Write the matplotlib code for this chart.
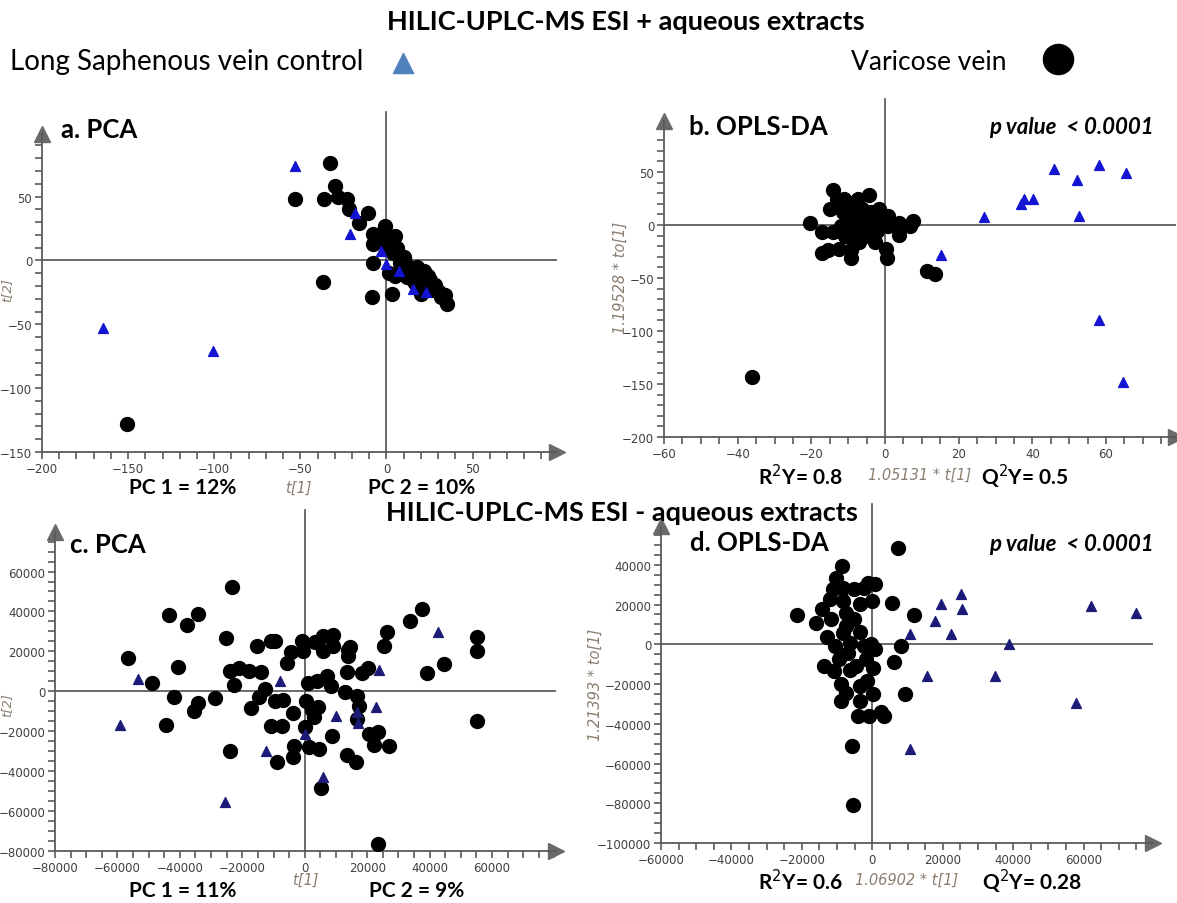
import matplotlib
matplotlib.use("Agg")
import matplotlib.pyplot as plt
from matplotlib.ticker import MultipleLocator

W, H = 1177, 904

# ---- panel a : PCA, ESI+ ----
a_tri_x = [-53.3, -21, -3, 0, 7, 15.5, 23, -164.7, -100.6, -18]
a_tri_y = [74, 21, 7, -3, -8, -22, -25, -53, -71, 37]
a_dot_x = [-33, -30, -53, -36, -28, -23, -22, -16, -11, -8, -8, -1, 5, 1.5, -5, 4, 10, -8,
           1.5, 5, 12, 14, 17.6, 18.7, 21, 16.5, 20, 25, 28, 30.5, 34, 35, 31.6, 8, 11, 22,
           24, -37, -8.6, 3, -150.5, -3, -0.6, 6, 12, 15.5, 23, 26]
a_dot_y = [76, 58, 48, 48, 50, 48, 40, 29, 37, 21, 13, 27, 19, 11, 16, 5.5, 3, -2,
           -10, -12, -5, -9, -5, -13, -17, -18, -26, -15.5, -19.5, -25, -27, -34, -29, -2.4, -1, -8,
           -12, -17, -29, -26, -128, 21, 16, 9.5, -13, -15.5, -21, -23]

# ---- panel b : OPLS-DA, ESI+ ----
b_tri_x = [45.8, 52.2, 58, 65.5, 26.8, 37, 37.8, 40.2, 52.7, 15.1, 58, 64.5]
b_tri_y = [52.3, 42.5, 56.7, 49, 7.2, 19.5, 24.6, 24.6, 8.8, -28.3, -89.4, -148.6]
b_dot_x = [-36, 11.3, 13.5, -20.4, -14, -17, -17.2, -15.5, -12.4, -9.2, -9.2, -15, -14, -13,
           -11, -8.9, -7.3, -4.3, -9.9, -8.9, -6.8, -7.1, -5.3, -2.7, -3.8, -1.7, -0.7, 0.8,
           0.8, 0.3, 0.6, 3.9, 3.9, 6.9, 7.6, -11.4, -7.8, -6.3, -5.8, -2.7, -10.9, -4.8,
           -8.4, -2.2, -4.3, -12, -8.9]
b_dot_y = [-143, -43, -46, 1.6, 33, -7, -26.4, -24, -22.7, -24, -31.5, 15, -7, 24.5,
           24.5, 21, 24.5, 28, 5.7, -3.8, -0.6, -16.4, -10, -16.4, 12, 15, 5.7, 8.8,
           -0.6, -22.7, -31.5, 1.9, -9.4, -0.6, 3.5, 12, 12, 15, 5.7, 2.5, -10, -5.4,
           0.9, -5.4, 10.4, -0.6, -13]

# ---- panel c : PCA, ESI- (thousands) ----
c_tri_x = [-53.4, -59.2, -8, -25.5, -12.5, 0, 5.7, 10.1, 16.6, 17, 22.7, 23.7, 42.7]
c_tri_y = [6.2, -16.7, 5, -55.4, -30.1, -21.4, -42.8, -12.2, -10.5, -15.9, -7.7, 10.7, 29.5]
c_dot_x = [-23.4, -43.6, -37.6, -34.1, -56.5, -40.6, -48.9, -41.8, -34.3, -35.5, -44.5, -28.7,
           -25.2, -24, -22.8, -21, -24, -17.8, -15.4, -13.9, -12.7, -14.8, -17.1, -10.7, -9.5,
           -9.5, -6.8, -10.7, -7.4, -8.8, -5.6, -4.4, -3.8, -3.4, -3.8, -0.8, -0.5, 1.2, 0.4,
           0, 1.5, 2.4, 3.1, 4.2, 4.5, 5.1, 3.9, 3.3, 5.9, 5.9, 7.2, 8.4, 9, 9, 8.7, 12.8,
           13.6, 13.8, 14, 14.6, 13.6, 16.7, 17.3, 16.6, 16.4, 18.2, 20.2, 20.5, 22.2, 23.5,
           23.5, 25.5, 26.2, 27.1, 33.6, 37.5, 39.3, 44.5, 55.2, 55.2, 55.2]
c_dot_y = [52.2, 38.3, 33.3, 38.8, 16.7, 12, 4, -2.7, -6, -9.7, -16.7, -3.5,
           26.8, 10.4, 3.3, 11.7, -29.8, 10, 22.9, 9.5, 1.2, -3, -8.4, 25.4, 25.1,
           -4.7, -4.4, -17.6, -17.2, -35.6, 14.1, 19.6, -10.9, -27.3, -32.8, 25.1, 20.1, 4, -5,
           -18.1, -27.8, -9.4, -13.1, -8, -29, -48.2, 5.4, 24.6, 27.6, 20.1, 7.9, 2.8, 28, 22.9, -22.3, -0.5,
           9.5, 17.9, 20.9, 22.4, -31.8, -2.5, -7.2, -13.9, -35.6, 9, 11.7, -21.4, -26.8, -20.6,
           -76.7, 22.9, 29.6, -27.3, 35.1, 41.3, 9, 13.7, 27.1, 20.4, -15.1]

# ---- panel d : OPLS-DA, ESI- (thousands) ----
d_tri_x = [25.1, 19.5, 25.6, 17.8, 10.8, 22.4, 38.8, 15.4, 34.8, 57.7, 62, 75, 10.8]
d_tri_y = [25.1, 20.1, 17.6, 11.7, 5, 5, 0, -15.9, -15.9, -29.8, 19.3, 15.9, -52.8]
d_dot_x = [7.2, -8.6, -10.4, -11.1, -8.2, -12, -14.4, -21.4, -16, -11.7, -8.4, -7.4, -5.2,
           -3.6, -2.5, -1.1, 0.8, 0, 5.6, 11.8, -3.6, -12.8, -10.6, -8.4, -6.3, -9.5, -13.8,
           -10.8, -6.3, -2.5, -0.3, 0.8, 0.2, -1.4, -3.6, -9, -7.4, -9, -3.6, 0.2, -4.1, -0.9,
           2.4, 3.2, 6.2, 8.1, 9.4, -5.9, -5.4, -5.2, -7.4, -6.8, -1.9, -4.6]
d_dot_y = [48.2, 39.4, 33.5, 27.6, 28.5, 22.6, 17.6, 14.7, 10.6, 12.6, 21.8, 15.9, 27.6,
           20.1, 28.5, 31, 30.2, 21.8, 20.6, 14.6, 6.2, 3.4, -0.8, 5.9, 0.8, -7.5, -10.9,
           -13.4, -12.9, -0.8, 0, -2.5, -11.7, -18.4, -20.9, -20.1, -24.3, -28.5, -28.5, -25.1, -36, -36,
           -34.3, -36, -8.9, -0.8, -24.8, -51.1, -80.9, 12.6, 9.2, -4.2, -7.5, -10.9]

c_tri_x = [v * 1000 for v in c_tri_x]
c_tri_y = [v * 1000 for v in c_tri_y]
c_dot_x = [v * 1000 for v in c_dot_x]
c_dot_y = [v * 1000 for v in c_dot_y]
d_tri_x = [v * 1000 for v in d_tri_x]
d_tri_y = [v * 1000 for v in d_tri_y]
d_dot_x = [v * 1000 for v in d_dot_x]
d_dot_y = [v * 1000 for v in d_dot_y]

BOLD = "Lato"
axis_col = "#5a5a5a"
lab_col = "#8a7d70"

fig = plt.figure(figsize=(W / 100, H / 100), dpi=100)


def rect(l, t, r, b):
    return [l / W, 1 - b / H, (r - l) / W, (b - t) / H]


def ftext(x, y, s, **kw):
    fig.text(x / W, 1 - y / H, s, **kw)


def panel(r, xlim, ylim, xticks, yticks, xminor, yminor):
    ax = fig.add_axes(r)
    ax.set_xlim(xlim)
    ax.set_ylim(ylim)
    ax.patch.set_alpha(0)
    for s in ["top", "right"]:
        ax.spines[s].set_visible(False)
    for s in ["left", "bottom"]:
        ax.spines[s].set_color(axis_col)
        ax.spines[s].set_linewidth(1.3)
    ax.axhline(0, color="#505050", lw=1.2, zorder=1)
    # vertical zero line runs a bit above the plot top, as in the original
    ax.plot([0, 0], [ylim[0], ylim[1] + 0.07 * (ylim[1] - ylim[0])], color="#505050",
            lw=1.2, zorder=1, clip_on=False)
    ax.set_xticks(xticks)
    ax.set_yticks(yticks)
    ax.xaxis.set_minor_locator(MultipleLocator(xminor))
    ax.yaxis.set_minor_locator(MultipleLocator(yminor))
    ax.tick_params(which="both", direction="out", length=5, width=1.2, color=axis_col,
                   labelsize=8.5, labelcolor="#404040", pad=2)
    ax.plot(1, 0, ">", color="#6a6a6a", ms=11, transform=ax.transAxes, clip_on=False)
    ax.plot(0, 1, "^", color="#6a6a6a", ms=11, transform=ax.transAxes, clip_on=False)
    return ax


# a
ax = panel(rect(42, 135, 557, 453), (-200, 99), (-150, 99),
           [-200, -150, -100, -50, 0, 50], [-150, -100, -50, 0, 50], 10, 10)
ax.scatter(a_dot_x, a_dot_y, s=100, color="black", zorder=3)
ax.scatter(a_tri_x, a_tri_y, s=50, marker="^", color="#1414d2", zorder=4)

# b
ax = panel(rect(664, 122, 1176, 438), (-60, 79), (-200, 98),
           [-60, -40, -20, 0, 20, 40, 60], [-200, -150, -100, -50, 0, 50], 5, 10)
ax.scatter(b_dot_x, b_dot_y, s=100, color="black", zorder=3)
ax.scatter(b_tri_x, b_tri_y, s=50, marker="^", color="#1414d2", zorder=4)

# c
ax = panel(rect(55, 533, 556, 852), (-80000, 80500), (-80000, 79800),
           list(range(-80000, 60001, 20000)), list(range(-80000, 60001, 20000)), 5000, 5000)
ax.scatter(c_dot_x, c_dot_y, s=100, color="black", zorder=3)
ax.scatter(c_tri_x, c_tri_y, s=50, marker="^", color="#1c1c78", zorder=4)

# d
ax = panel(rect(661, 527, 1153, 844), (-60000, 79700), (-100000, 59500),
           list(range(-60000, 60001, 20000)), list(range(-100000, 40001, 20000)), 5000, 5000)
ax.scatter(d_dot_x, d_dot_y, s=100, color="black", zorder=3)
ax.scatter(d_tri_x, d_tri_y, s=50, marker="^", color="#1c1c78", zorder=4)

# headers and legend
ftext(626, 22, "HILIC-UPLC-MS ESI + aqueous extracts", family=BOLD, weight="bold",
      fontsize=19.5, ha="center", va="center")
ftext(622, 513, "HILIC-UPLC-MS ESI - aqueous extracts", family=BOLD, weight="bold",
      fontsize=19.5, ha="center", va="center")
ftext(10, 62, "Long Saphenous vein control", family=BOLD, fontsize=20, ha="left", va="center")
ftext(851, 62, "Varicose vein", family=BOLD, fontsize=19, ha="left", va="center")
ov = fig.add_axes([0, 0, 1, 1])
ov.set_xlim(0, W)
ov.set_ylim(H, 0)
ov.axis("off")
ov.scatter([403], [64], s=210, marker="^", color="#4f81bd")
ov.scatter([1058], [60], s=470, marker="o", color="black")

# panel titles
for x, y, s in [(61, 130, "a. PCA"), (689, 127, "b. OPLS-DA"), (70, 545, "c. PCA"), (690, 543, "d. OPLS-DA")]:
    ftext(x, y, s, family=BOLD, weight="bold", fontsize=18.5, ha="left", va="center")
for y in [127, 545]:
    ftext(1154, y, "p value  < 0.0001", family=BOLD, weight="bold", style="italic",
          fontsize=16, ha="right", va="center")

# axis captions
for x, y, s in [(183, 488, "PC 1 = 12%"), (422, 488, "PC 2 = 10%"),
                (183, 891, "PC 1 = 11%"), (417, 891, "PC 2 = 9%"),
                (800, 477, "R$^2$Y= 0.8"), (1025, 477, "Q$^2$Y= 0.5"),
                (800, 882, "R$^2$Y= 0.6"), (1032, 882, "Q$^2$Y= 0.28")]:
    ftext(x, y, s, family=BOLD, weight="bold", fontsize=15, ha="center", va="center")
for x, y, s in [(298, 488, "t[1]"), (305, 880, "t[1]"),
                (920, 475, "1.05131 * t[1]"), (907, 880, "1.06902 * t[1]")]:
    ftext(x, y, s, style="italic", fontsize=10.5, color=lab_col, ha="center", va="center")
ftext(620, 278, "1.19528 * to[1]", style="italic", fontsize=10.5, color=lab_col,
      rotation=90, ha="center", va="center")
ftext(595, 685, "1.21393 * to[1]", style="italic", fontsize=10.5, color=lab_col,
      rotation=90, ha="center", va="center")
ftext(7, 290, "t[2]", style="italic", fontsize=9.5, color=lab_col, rotation=90,
      ha="center", va="center")
ftext(7, 705, "t[2]", style="italic", fontsize=9.5, color=lab_col, rotation=90,
      ha="center", va="center")

fig.savefig("out.png", dpi=100)
